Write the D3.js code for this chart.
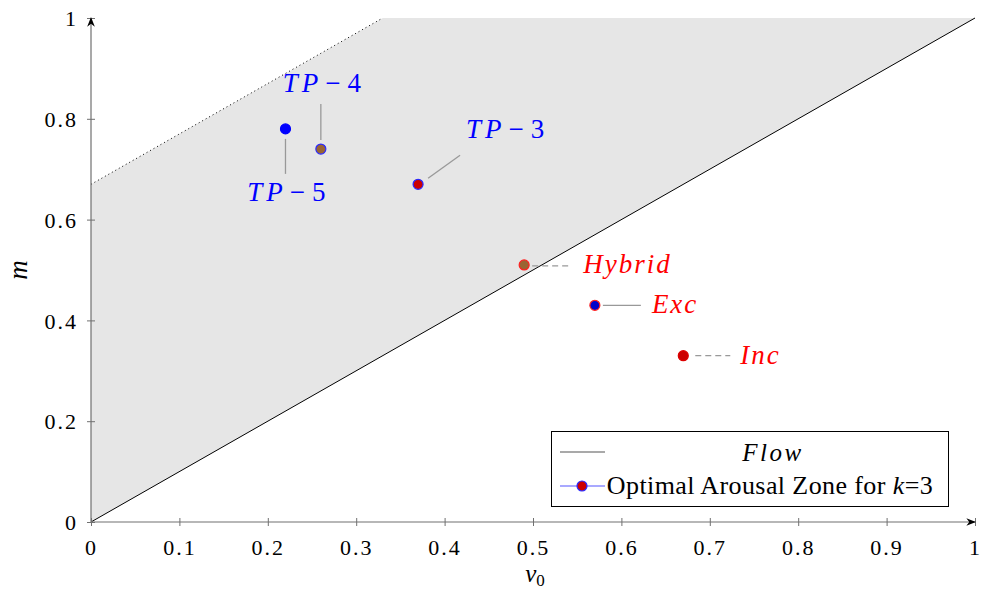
<!DOCTYPE html>
<html><head><meta charset="utf-8">
<script src="https://cdn.jsdelivr.net/npm/d3@7"></script>
<style>
body{margin:0;background:#fff;}
</style></head>
<body><svg id="c" width="981" height="592"></svg>
<script>
// ---- data ----
const xTicks = [0,0.1,0.2,0.3,0.4,0.5,0.6,0.7,0.8,0.9,1];
const yTicks = [0,0.2,0.4,0.6,0.8,1];
const flowLine = [[0,0],[1,1]];
const zoneUpper = [[0,0.67],[0.33,1]];
const pointNames = ["TP-5","TP-4","TP-3","Hybrid","Exc","Inc"];
const pointLabels = ["TP − 5","TP − 4","TP − 3","Hybrid","Exc","Inc"];
const pointX = [0.22,0.26,0.37,0.49,0.57,0.67];
const pointY = [0.78,0.74,0.67,0.51,0.43,0.33];
const legendLabels = ["Flow","Optimal Arousal Zone for k=3"];

// ---- styles / layout ----
const FONT = "'Liberation Serif'";
const fills   = ["#0000ff","#9a6432","#cc0000","#9a6432","#0000cc","#cc0000"];
const strokes = ["#0000ff","#2a2aff","#2a2aff","#ff2020","#ff2020","#dd0000"];
const labelColors = ["#0000ff","#0000ff","#0000ff","#ff0000","#ff0000","#ff0000"];
const leaders = [
  {l:[0,10,0,45], t:[1,72], anchor:"middle", dash:null},
  {l:[0,-9,0,-45], t:[1,-57], anchor:"middle", dash:null},
  {l:[10,-6,42,-29], t:[87,-46], anchor:"middle", dash:null},
  {l:[8,1,46,1], t:[59,8], anchor:"start", dash:"6,4"},
  {l:[8,0,46,0], t:[57,8], anchor:"start", dash:null},
  {l:[12,0,47,0], t:[57,8], anchor:"start", dash:"6,4"}
];

const svg = d3.select("#c");
const x = d3.scaleLinear().domain([0,1]).range([91,975]);
const y = d3.scaleLinear().domain([0,1]).range([522,18]);
const line = d3.line().x(d=>x(d[0])).y(d=>y(d[1]));

const poly = [flowLine[0], flowLine[1], [zoneUpper[1][0], 1], zoneUpper[1], zoneUpper[0]];
svg.append("path").attr("d", line(poly)+"Z").attr("fill","#e6e6e6").attr("stroke","none");
svg.append("path").attr("d", line(zoneUpper)).attr("fill","none").attr("stroke","#000")
  .attr("stroke-width",1).attr("stroke-dasharray","1,3");
svg.append("path").attr("d", line(flowLine)).attr("fill","none").attr("stroke","#000").attr("stroke-width",1);

const axCol = "#707070";
const defs = svg.append("defs");
defs.append("marker").attr("id","arr").attr("viewBox","0 0 10 10").attr("refX",9).attr("refY",5)
  .attr("markerWidth",8).attr("markerHeight",8).attr("orient","auto-start-reverse")
  .append("path").attr("d","M0,1 L10,5 L0,9 L3,5 Z").attr("fill","#000");
const fmt = d=>d===0?"0":(d===1?"1":d3.format(".1f")(d));
const xAxis = d3.axisBottom(x).tickValues(xTicks).tickSize(0).tickFormat(fmt);
const gx = svg.append("g").attr("transform","translate(0,522)").call(xAxis);
gx.select(".domain").remove();
gx.selectAll("text").style("font-family",FONT).attr("font-size",22).attr("letter-spacing",2)
  .attr("fill","#000").attr("dy",0).attr("y",33);
gx.append("line").attr("x1",x(0)).attr("x2",x(1)).attr("y1",0).attr("y2",0).attr("stroke",axCol).attr("stroke-width",1.2).attr("marker-end","url(#arr)");
gx.selectAll(".tick").append("line").attr("y1",-4).attr("y2",4).attr("stroke",axCol);

const yAxis = d3.axisLeft(y).tickValues(yTicks).tickSize(0).tickFormat(fmt);
const gy = svg.append("g").attr("transform","translate(91,0)").call(yAxis);
gy.select(".domain").remove();
gy.selectAll("text").style("font-family",FONT).attr("font-size",22).attr("letter-spacing",2)
  .attr("fill","#000").attr("x",-13).attr("dy","0.35em");
gy.append("line").attr("x1",0).attr("x2",0).attr("y1",y(0)).attr("y2",y(1)).attr("stroke",axCol).attr("stroke-width",1.2).attr("marker-end","url(#arr)");
gy.selectAll(".tick").append("line").attr("x1",-4).attr("x2",4).attr("stroke",axCol);

const xt = svg.append("text").attr("x",535).attr("y",582).attr("text-anchor","middle").attr("font-size",25).style("font-family",FONT);
xt.append("tspan").attr("font-style","italic").text("v");
xt.append("tspan").attr("font-size",17).attr("dy",4).text("0");
svg.append("text").attr("transform","translate(27,270) rotate(-90)").attr("text-anchor","middle")
  .attr("font-size",27).attr("font-style","italic").style("font-family",FONT).text("m");

pointNames.forEach((n,i)=>{
  const px = x(pointX[i]), py = y(pointY[i]), L = leaders[i];
  svg.append("line").attr("x1",px+L.l[0]).attr("y1",py+L.l[1]).attr("x2",px+L.l[2]).attr("y2",py+L.l[3])
    .attr("stroke","#999").attr("stroke-width",1.3).attr("stroke-dasharray",L.dash);
  const t = svg.append("text").attr("x",px+L.t[0]).attr("y",py+L.t[1]).attr("text-anchor",L.anchor)
    .attr("font-size",27).attr("fill",labelColors[i]).style("font-family",FONT);
  const lab = pointLabels[i];
  if(lab.startsWith("TP")){
    const parts = lab.split(" − ");
    t.append("tspan").attr("font-style","italic").attr("letter-spacing",4).text(parts[0]);
    t.append("tspan").attr("dx",3).text("−");
    t.append("tspan").attr("dx",7).text(parts[1]);
  } else {
    t.append("tspan").attr("font-style","italic").attr("letter-spacing",2).text(lab);
  }
});
svg.selectAll("circle.pt").data(pointNames).enter().append("circle").attr("class","pt")
  .attr("cx",(d,i)=>x(pointX[i])).attr("cy",(d,i)=>y(pointY[i])).attr("r",5)
  .attr("fill",(d,i)=>fills[i]).attr("stroke",(d,i)=>strokes[i]).attr("stroke-width",1.2);

const lg = svg.append("g");
lg.append("rect").attr("x",551.5).attr("y",431.5).attr("width",397).attr("height",75)
  .attr("fill","#fff").attr("stroke","#000").attr("stroke-width",1);
lg.append("line").attr("x1",560).attr("x2",605).attr("y1",452).attr("y2",452).attr("stroke","#555").attr("stroke-width",1.2);
lg.append("text").attr("x",773).attr("y",461).attr("text-anchor","middle").attr("font-size",25)
  .attr("font-style","italic").attr("letter-spacing",2.5).style("font-family",FONT).text(legendLabels[0]);
lg.append("line").attr("x1",560).attr("x2",605).attr("y1",486).attr("y2",486).attr("stroke","#5555ff").attr("stroke-width",1.2);
lg.append("circle").attr("cx",582).attr("cy",486).attr("r",5).attr("fill","#cc0000").attr("stroke","#2a2aff").attr("stroke-width",1.2);
const lt = lg.append("text").attr("x",770).attr("y",494).attr("text-anchor","middle").attr("font-size",26)
  .attr("letter-spacing",0.4).style("font-family",FONT);
const parts = legendLabels[1].split("k");
lt.append("tspan").text(parts[0]);
lt.append("tspan").attr("font-style","italic").text("k");
lt.append("tspan").text(parts[1]);
</script></body></html>
